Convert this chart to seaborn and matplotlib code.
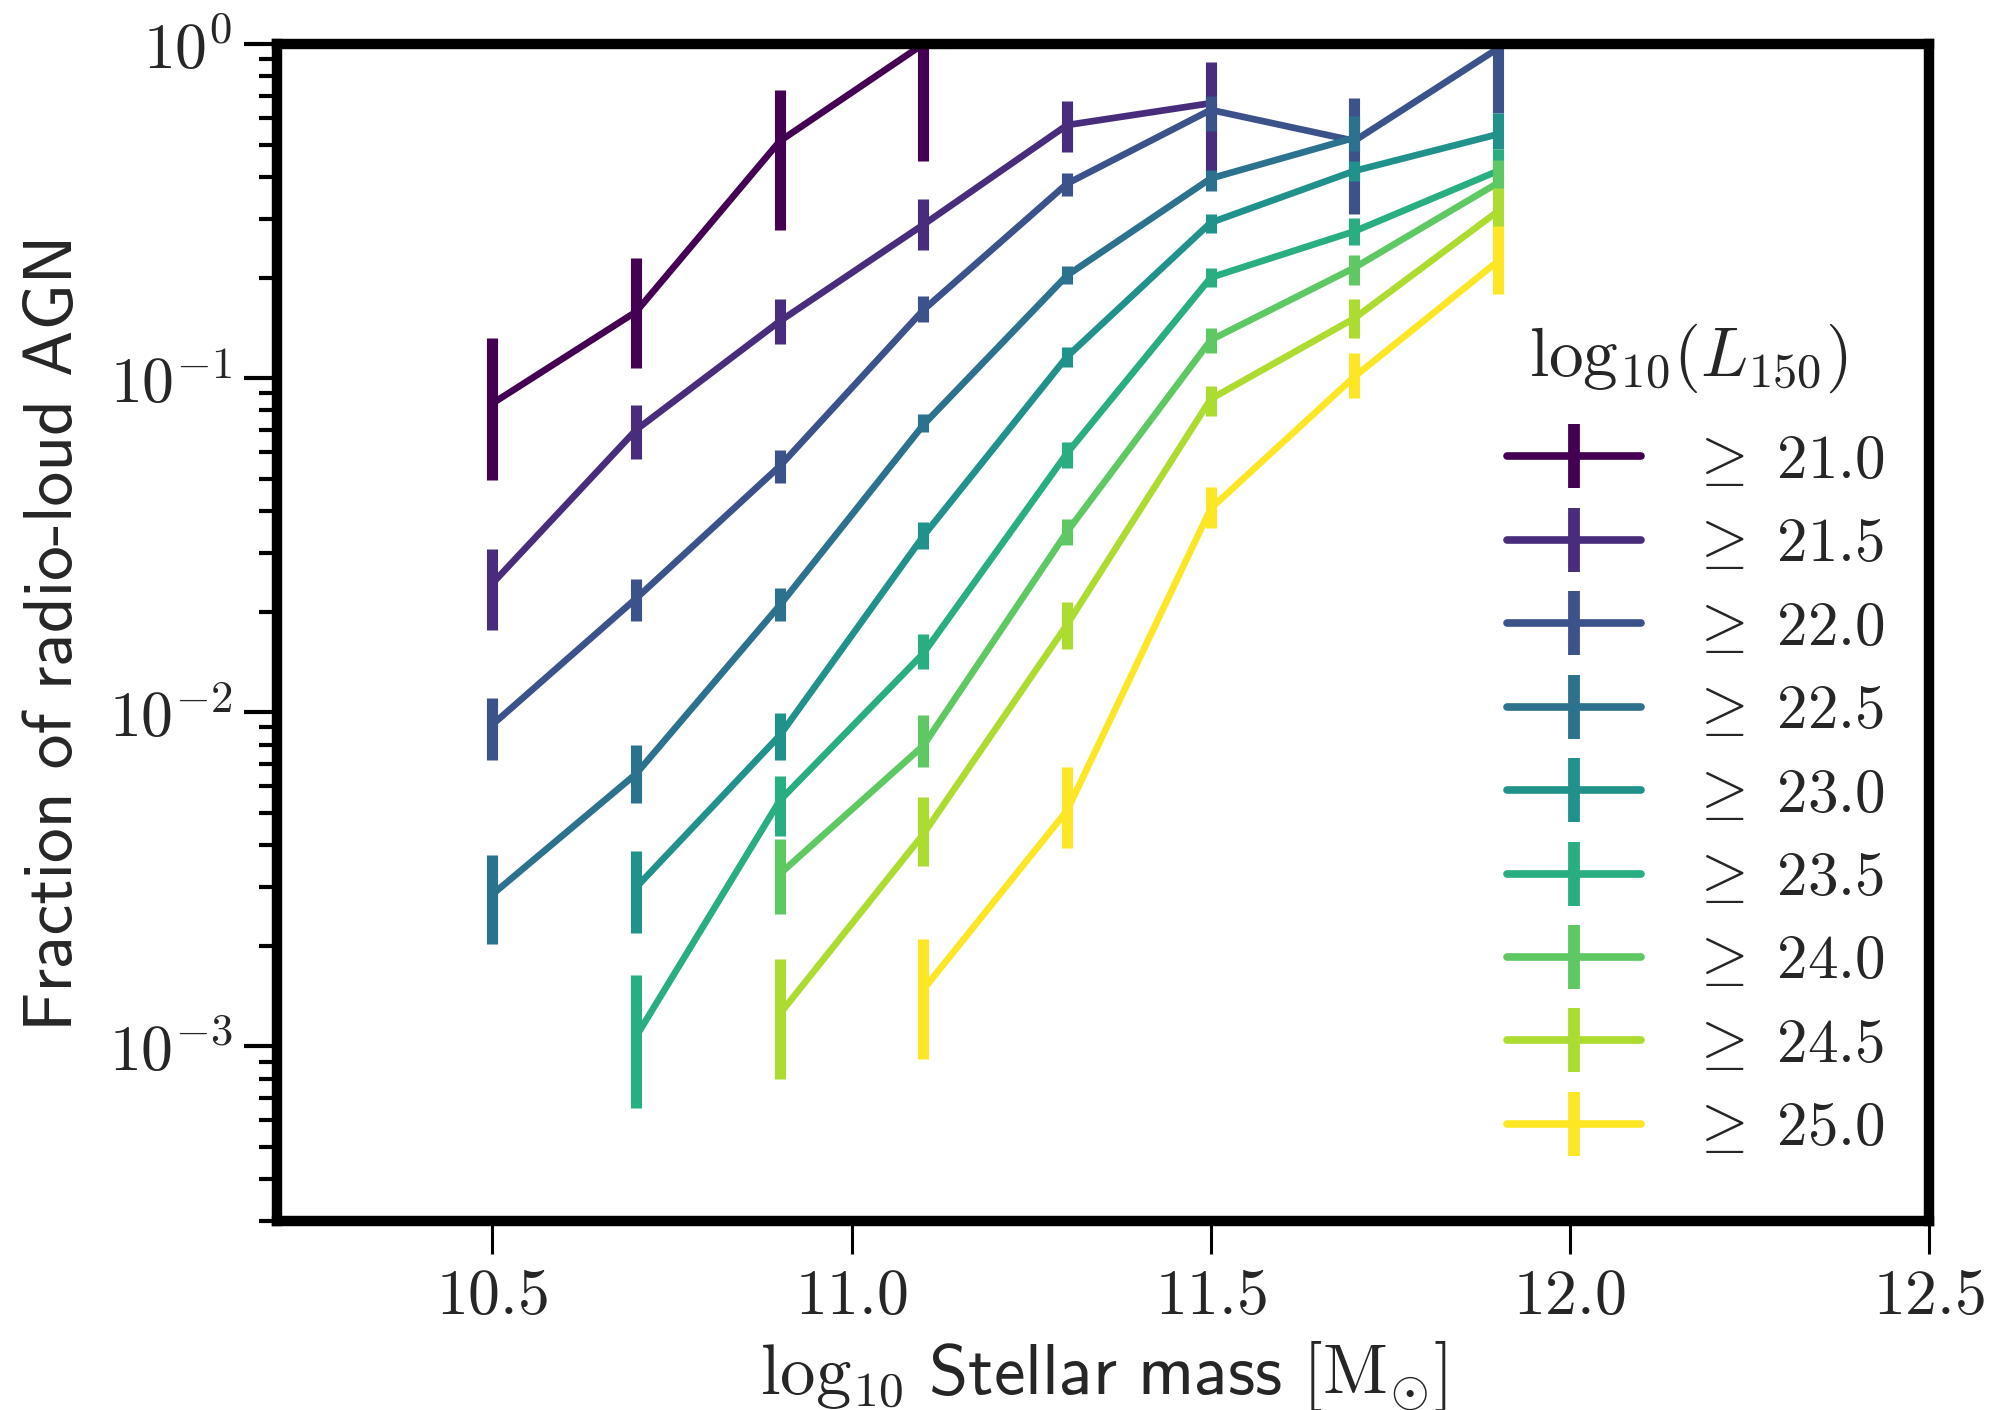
import matplotlib
matplotlib.use("Agg")
import os
import numpy as np
import pandas as pd
import matplotlib.pyplot as plt
from matplotlib.lines import Line2D
from matplotlib.font_manager import FontProperties
from matplotlib.ticker import FixedLocator, FuncFormatter, LogLocator, NullFormatter
import seaborn as sns

# ---------------- data ----------------
thresholds = ["21.0", "21.5", "22.0", "22.5", "23.0", "23.5", "24.0", "24.5", "25.0"]

mass_210 = [10.5, 10.7, 10.9, 11.1]
frac_210 = [0.084, 0.158, 0.512, 1.0]
lo_210 = [0.0495, 0.107, 0.277, 0.448]
hi_210 = [0.132, 0.229, 0.730, 1.30]

mass_215 = [10.5, 10.7, 10.9, 11.1, 11.3, 11.5]
frac_215 = [0.0243, 0.070, 0.148, 0.288, 0.572, 0.665]
lo_215 = [0.0176, 0.0573, 0.1267, 0.241, 0.476, 0.417]
hi_215 = [0.0308, 0.0828, 0.1725, 0.343, 0.676, 0.886]

mass_220 = [10.5, 10.7, 10.9, 11.1, 11.3, 11.5, 11.7, 11.9]
frac_220 = [0.00918, 0.0219, 0.0545, 0.160, 0.382, 0.635, 0.513, 0.97]
lo_220 = [0.00717, 0.0187, 0.0484, 0.147, 0.351, 0.549, 0.309, 0.623]
hi_220 = [0.0110, 0.0250, 0.0610, 0.176, 0.412, 0.700, 0.691, 1.30]

mass_225 = [10.5, 10.7, 10.9, 11.1, 11.3, 11.5, 11.7]
frac_225 = [0.00285, 0.00654, 0.0209, 0.0725, 0.203, 0.396, 0.524]
lo_225 = [0.00202, 0.00535, 0.0187, 0.0692, 0.191, 0.363, 0.478]
hi_225 = [0.00375, 0.00795, 0.0235, 0.0780, 0.216, 0.421, 0.609]

mass_230 = [10.7, 10.9, 11.1, 11.3, 11.5, 11.7, 11.9]
frac_230 = [0.00299, 0.00852, 0.0337, 0.116, 0.292, 0.417, 0.537]
lo_230 = [0.00219, 0.00717, 0.0308, 0.108, 0.272, 0.389, 0.484]
hi_230 = [0.00385, 0.00995, 0.0370, 0.1236, 0.309, 0.447, 0.623]

mass_235 = [10.7, 10.9, 11.1, 11.3, 11.5, 11.7, 11.9]
frac_235 = [0.00107, 0.00544, 0.0150, 0.0596, 0.200, 0.275, 0.417]
lo_235 = [0.000655, 0.00427, 0.0135, 0.0537, 0.188, 0.251, 0.390]
hi_235 = [0.00164, 0.00646, 0.0172, 0.0646, 0.214, 0.302, 0.484]

mass_240 = [10.9, 11.1, 11.3, 11.5, 11.7, 11.9]
frac_240 = [0.00328, 0.00795, 0.0347, 0.130, 0.214, 0.384]
lo_240 = [0.00249, 0.00685, 0.0316, 0.119, 0.190, 0.350]
hi_240 = [0.00417, 0.00978, 0.0378, 0.141, 0.234, 0.451]

mass_245 = [10.9, 11.1, 11.3, 11.5, 11.7, 11.9]
frac_245 = [0.00125, 0.00432, 0.0183, 0.0866, 0.151, 0.316]
lo_245 = [0.000796, 0.00347, 0.0155, 0.0768, 0.132, 0.270]
hi_245 = [0.00182, 0.00557, 0.0214, 0.0944, 0.172, 0.371]

mass_250 = [11.1, 11.3, 11.5, 11.7, 11.9]
frac_250 = [0.00148, 0.00508, 0.0407, 0.101, 0.224]
lo_250 = [0.000914, 0.00392, 0.0357, 0.0871, 0.178]
hi_250 = [0.0021, 0.00685, 0.0473, 0.119, 0.285]

x_ticks = [10.5, 11.0, 11.5, 12.0, 12.5]
y_ticks = [1e-3, 1e-2, 1e-1, 1e0]

series = [
    (mass_210, frac_210, lo_210, hi_210),
    (mass_215, frac_215, lo_215, hi_215),
    (mass_220, frac_220, lo_220, hi_220),
    (mass_225, frac_225, lo_225, hi_225),
    (mass_230, frac_230, lo_230, hi_230),
    (mass_235, frac_235, lo_235, hi_235),
    (mass_240, frac_240, lo_240, hi_240),
    (mass_245, frac_245, lo_245, hi_245),
    (mass_250, frac_250, lo_250, hi_250),
]

# ---------------- style ----------------
sns.set_theme(style="ticks")
plt.rcParams["mathtext.fontset"] = "cm"
plt.rcParams["font.family"] = ["DejaVu Sans"]

cmap = sns.color_palette("viridis", as_cmap=True)
colors = [cmap(v) for v in np.linspace(0, 1, len(thresholds))]

W, H = 1989, 1410
fig = plt.figure(figsize=(W / 100, H / 100), dpi=100)
ax = fig.add_axes([277 / W, 1 - 1221 / H, (1929 - 277) / W, (1221 - 44) / H])
ax.set_yscale("log")

LW = 4.8
ELW = 8.0

for (xs, ys, lo, hi), c, t in zip(series, colors, thresholds):
    df = pd.DataFrame({"mass": xs, "frac": ys})
    sns.lineplot(data=df, x="mass", y="frac", color=c, linewidth=LW, ax=ax,
                 legend=False, errorbar=None, sort=False)
    ys_a = np.array(ys)
    yerr = [ys_a - np.array(lo), np.array(hi) - ys_a]
    ax.errorbar(xs, ys, yerr=yerr, fmt="none", ecolor=c, elinewidth=ELW, capsize=0)

ax.set_xlim(10.2, 12.5)
ax.set_ylim(3e-4, 1.0)

# ticks
ax.xaxis.set_major_locator(FixedLocator(x_ticks))
ax.xaxis.set_major_formatter(FuncFormatter(lambda v, p: r"$%.1f$" % v))
ax.yaxis.set_major_locator(FixedLocator(y_ticks))
ax.yaxis.set_major_formatter(FuncFormatter(lambda v, p: r"$10^{%d}$" % int(round(np.log10(v)))))
ax.yaxis.set_minor_locator(LogLocator(base=10, subs=np.arange(2, 10), numticks=20))
ax.yaxis.set_minor_formatter(NullFormatter())

ax.tick_params(axis="both", which="major", direction="out", labelsize=46, pad=8, color="black")
ax.tick_params(axis="y", which="major", length=24, width=3)
ax.tick_params(axis="x", which="major", length=24, width=2.2)
ax.tick_params(axis="y", which="minor", direction="out", length=13, width=3, color="black")
ax.tick_params(top=False, right=False)

for s in ax.spines.values():
    s.set_linewidth(7.5)
    s.set_color("black")
    s.set_visible(True)

# labels
cmss = os.path.join(matplotlib.get_data_path(), "fonts", "ttf", "cmss10.ttf")
ax.set_ylabel("Fraction of radio-loud AGN", fontproperties=FontProperties(fname=cmss, size=50))
ax.yaxis.set_label_coords(-0.116, 0.5)
ax.set_xlabel(r"$\mathrm{log}_{10}\ \mathsf{Stellar\ mass}\ [\mathrm{M}_{\odot}]$",
              fontsize=51, labelpad=8)

# legend (title drawn as a separate text so its gap to the rows matches)
handles = [Line2D([0], [0], color=c, lw=5.5, marker="|", markersize=46, markeredgewidth=8.5)
           for c in colors]
labels = [r"$\geq\ %s$" % t for t in thresholds]
leg = ax.legend(handles, labels, loc="center left",
                bbox_to_anchor=(1507 / W, 1 - 795 / H), bbox_transform=fig.transFigure,
                frameon=False, fontsize=44, handlelength=2.2,
                handletextpad=0.8, labelspacing=0.40, borderpad=0, borderaxespad=0)
fig.text(1688 / W, 1 - 358 / H, r"$\mathrm{log}_{10}(L_{150})$", fontsize=50,
         ha="center", va="center")

fig.savefig("out.png", dpi=100)
